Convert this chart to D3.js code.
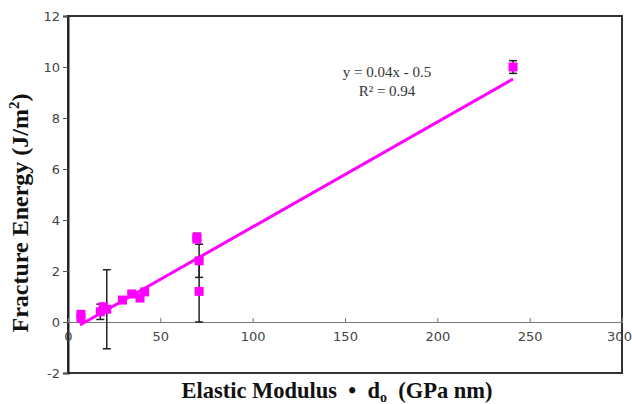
<!DOCTYPE html>
<html>
<head>
<meta charset="utf-8">
<script src="https://cdn.jsdelivr.net/npm/d3@7"></script>
<style>
  body { margin: 0; background: #fff; }
  svg { display: block; }
</style>
</head>
<body>
<div id="chart"></div>
<script>
// values
const modulus = [7, 7, 17.5, 19, 21, 29.5, 34.5, 39, 41.5, 69.8, 69.8, 71, 71, 241];
const energy  = [0.3, 0.15, 0.4, 0.6, 0.5, 0.86, 1.1, 0.94, 1.18, 3.33, 3.25, 2.4, 1.2, 10.0];
const errBar  = [0, 0, 0.3, 0, 1.55, 0, 0, 0, 0, 0.15, 0, 0.65, 1.2, 0.25];

const trendX = [6.5, 241];
const trendY = [-0.12, 9.53];

const xTicks = [0, 50, 100, 150, 200, 250, 300];
const yTicks = [-2, 0, 2, 4, 6, 8, 10, 12];

const equation = ["y = 0.04x - 0.5", "R² = 0.94"];

const width = 632, height = 404;
const margin = { top: 16, right: 10, bottom: 31, left: 68 };
const w = width - margin.left - margin.right;
const h = height - margin.top - margin.bottom;

const svg = d3.select("#chart")
    .append("svg")
    .attr("width", width)
    .attr("height", height);

const g = svg.append("g")
    .attr("transform", "translate(" + margin.left + "," + margin.top + ")");

const x = d3.scaleLinear().domain([0, 300]).range([0, w]);
const y = d3.scaleLinear().domain([-2, 12]).range([h, 0]);

const tickFont = "'DejaVu Sans', Verdana, sans-serif";
const serif = "'Liberation Serif', 'Times New Roman', serif";

// frame
g.append("rect")
    .attr("x", 0).attr("y", 0)
    .attr("width", w).attr("height", h)
    .attr("fill", "none")
    .attr("stroke", "#333")
    .attr("stroke-width", 2);

// y axis
const yAxis = g.append("g")
    .call(d3.axisLeft(y).tickValues(yTicks).tickSize(5).tickFormat(d => String(d)));
yAxis.select(".domain").attr("stroke", "#222").attr("stroke-width", 2);
yAxis.selectAll(".tick line").attr("stroke", "#555");
yAxis.selectAll("text")
    .attr("font-family", tickFont)
    .attr("font-size", 13)
    .attr("fill", "#444")
    .attr("x", -8);

// x axis at y = 0
const xAxis = g.append("g")
    .attr("transform", "translate(0," + y(0) + ")")
    .call(d3.axisBottom(x).tickValues(xTicks).tickSize(-4).tickPadding(10));
xAxis.select(".domain").attr("stroke", "#777").attr("stroke-width", 1.2);
xAxis.selectAll(".tick line").attr("stroke", "#777");
xAxis.selectAll("text")
    .attr("font-family", tickFont)
    .attr("font-size", 13)
    .attr("fill", "#444");
// last label sits on the right edge, nudge it so it stays in the window
xAxis.selectAll("text").filter(d => d === 300).attr("dx", -3);

// trend line
g.append("line")
    .attr("x1", x(trendX[0])).attr("y1", y(trendY[0]))
    .attr("x2", x(trendX[1])).attr("y2", y(trendY[1]))
    .attr("stroke", "#ff00ff")
    .attr("stroke-width", 3);

const points = modulus.map((m, i) => ({ m, e: energy[i], err: errBar[i] }));

// error bars
const bars = g.selectAll(".err")
    .data(points.filter(d => d.err > 0))
    .enter()
    .append("g")
    .attr("stroke", "#222")
    .attr("stroke-width", 1.5);
bars.append("line")
    .attr("x1", d => x(d.m)).attr("x2", d => x(d.m))
    .attr("y1", d => y(d.e - d.err)).attr("y2", d => y(d.e + d.err));
bars.append("line")
    .attr("x1", d => x(d.m) - 4).attr("x2", d => x(d.m) + 4)
    .attr("y1", d => y(d.e - d.err)).attr("y2", d => y(d.e - d.err));
bars.append("line")
    .attr("x1", d => x(d.m) - 4).attr("x2", d => x(d.m) + 4)
    .attr("y1", d => y(d.e + d.err)).attr("y2", d => y(d.e + d.err));

// markers
const size = 9;
g.selectAll(".pt")
    .data(points)
    .enter()
    .append("rect")
    .attr("x", d => x(d.m) - size / 2)
    .attr("y", d => y(d.e) - size / 2)
    .attr("width", size)
    .attr("height", size)
    .attr("fill", "#ff00ff");

// equation
g.append("text")
    .attr("x", 319).attr("y", 61)
    .attr("text-anchor", "middle")
    .attr("font-family", serif)
    .attr("font-size", 15)
    .attr("fill", "#333")
    .text(equation[0]);
g.append("text")
    .attr("x", 319).attr("y", 80)
    .attr("text-anchor", "middle")
    .attr("font-family", serif)
    .attr("font-size", 15)
    .attr("fill", "#333")
    .text(equation[1]);

// axis titles
const yTitle = svg.append("text")
    .attr("transform", "translate(28,213) rotate(-90)")
    .attr("text-anchor", "middle")
    .attr("font-family", serif)
    .attr("font-weight", "bold")
    .attr("font-size", 24)
    .attr("fill", "#111");
yTitle.append("tspan").text("Fracture Energy (J/m");
yTitle.append("tspan").attr("font-size", 15).attr("dy", -9).text("2");
yTitle.append("tspan").attr("dy", 9).text(")");

const xTitle = svg.append("text")
    .attr("x", 337).attr("y", 398)
    .attr("text-anchor", "middle")
    .attr("font-family", serif)
    .attr("font-weight", "bold")
    .attr("font-size", 22.5)
    .attr("fill", "#111")
    .attr("xml:space", "preserve");
xTitle.append("tspan").text("Elastic Modulus  •  d");
xTitle.append("tspan").attr("font-size", 14).attr("dy", 4).text("o");
xTitle.append("tspan").attr("dy", -4).text("  (GPa nm)");
</script>
</body>
</html>
